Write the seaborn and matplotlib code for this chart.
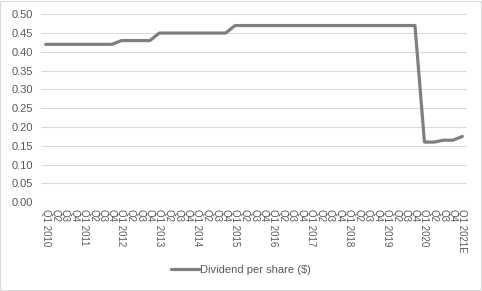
import matplotlib
matplotlib.use("Agg")
import matplotlib.pyplot as plt
import seaborn as sns
import pandas as pd
from matplotlib.patches import Rectangle

quarters = ["Q1 2010", "Q2", "Q3", "Q4",
            "Q1 2011", "Q2", "Q3", "Q4",
            "Q1 2012", "Q2", "Q3", "Q4",
            "Q1 2013", "Q2", "Q3", "Q4",
            "Q1 2014", "Q2", "Q3", "Q4",
            "Q1 2015", "Q2", "Q3", "Q4",
            "Q1 2016", "Q2", "Q3", "Q4",
            "Q1 2017", "Q2", "Q3", "Q4",
            "Q1 2018", "Q2", "Q3", "Q4",
            "Q1 2019", "Q2", "Q3", "Q4",
            "Q1 2020", "Q2", "Q3", "Q4",
            "Q1 2021E"]
dividend = [0.42, 0.42, 0.42, 0.42,
            0.42, 0.42, 0.42, 0.42,
            0.43, 0.43, 0.43, 0.43,
            0.45, 0.45, 0.45, 0.45,
            0.45, 0.45, 0.45, 0.45,
            0.47, 0.47, 0.47, 0.47,
            0.47, 0.47, 0.47, 0.47,
            0.47, 0.47, 0.47, 0.47,
            0.47, 0.47, 0.47, 0.47,
            0.47, 0.47, 0.47, 0.47,
            0.16, 0.16, 0.165, 0.165,
            0.175]
series_name = "Dividend per share ($)"
y_ticks = [0.00, 0.05, 0.10, 0.15, 0.20, 0.25, 0.30, 0.35, 0.40, 0.45, 0.50]

df = pd.DataFrame({"idx": range(len(quarters)), "value": dividend,
                   "series": series_name})

sns.set_theme(style="white")
plt.rcParams["font.family"] = ["Liberation Sans", "DejaVu Sans"]

fig = plt.figure(figsize=(4.82, 2.91), dpi=100)
ax = fig.add_axes([0.085, 0.305, 0.884, 0.646])

sns.lineplot(data=df, x="idx", y="value", hue="series",
             palette=["#7f7f7f"], linewidth=2.3, ax=ax, legend=True)

ax.set_xlim(-0.5, len(quarters) - 0.5)
ax.set_ylim(0, 0.5)
ax.set_yticks(y_ticks)
ax.set_yticklabels([f"{v:.2f}" for v in y_ticks], fontsize=8, color="#595959")
ax.set_xticks(range(len(quarters)))
ax.set_xticklabels(quarters, rotation=-90, fontsize=7, color="#595959",
                   ha="center", va="top")
ax.tick_params(axis="both", length=0)
ax.tick_params(axis="y", pad=6)
ax.tick_params(axis="x", pad=5)
ax.yaxis.grid(True, color="#d9d9d9", linewidth=0.75)
ax.xaxis.grid(False)
for s in ax.spines.values():
    s.set_visible(False)
ax.set_xlabel("")
ax.set_ylabel("")

handles, labels = ax.get_legend_handles_labels()
ax.get_legend().remove()
fig.legend(handles, labels, loc="center", bbox_to_anchor=(0.5, 0.072),
           frameon=False, fontsize=8, handlelength=2.5, handletextpad=0.1,
           labelcolor="#595959")

fig.patches.append(Rectangle((0.001, 0.002), 0.997, 0.995, transform=fig.transFigure,
                             fill=False, edgecolor="#d9d9d9", linewidth=0.8))

fig.savefig("out.png", dpi=100, facecolor="white")
